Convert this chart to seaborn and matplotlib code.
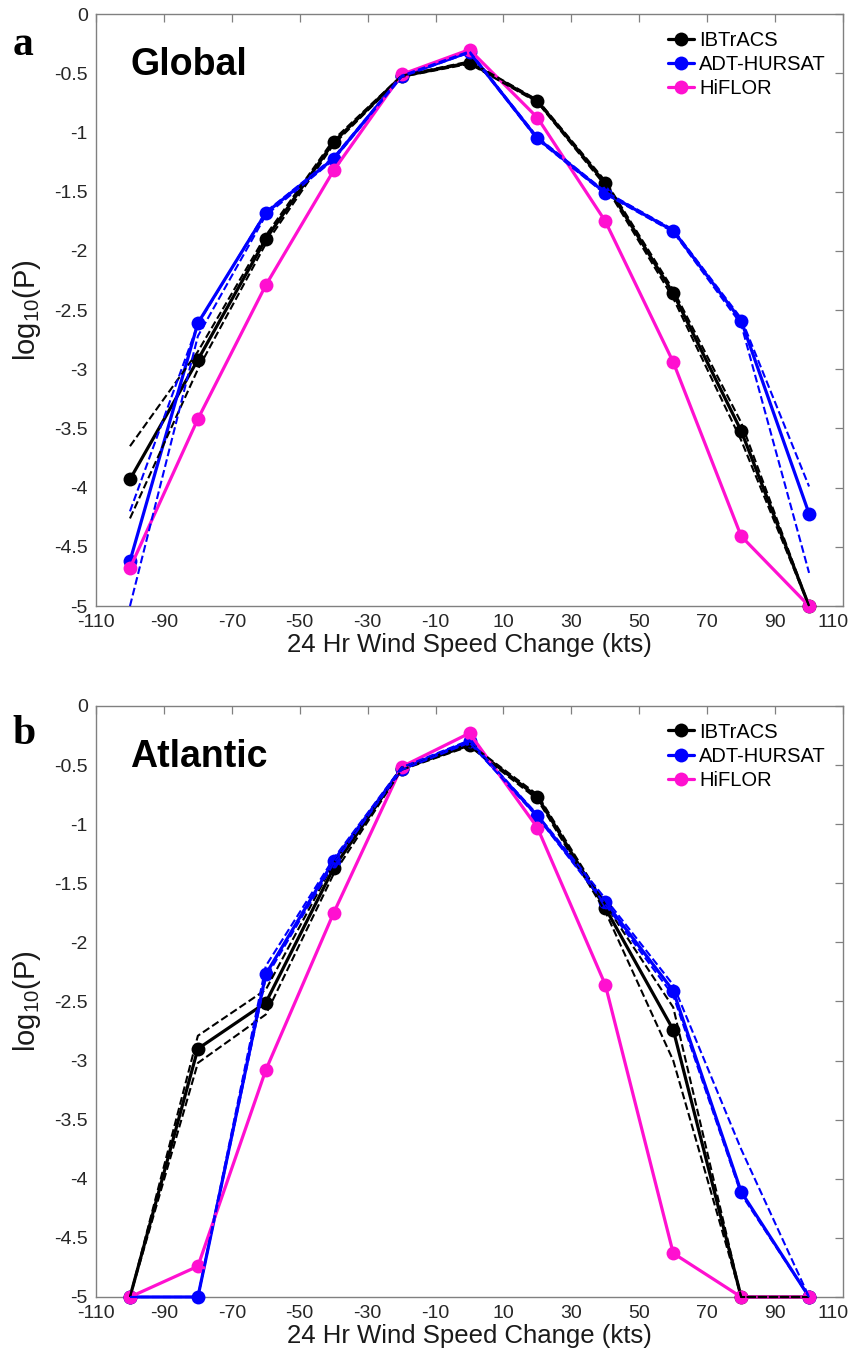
import numpy as np
import pandas as pd
import matplotlib
matplotlib.use('Agg')
import matplotlib.pyplot as plt
import matplotlib.transforms as mtransforms
import seaborn as sns

sns.set_style('white')
plt.rcParams['font.family'] = ['Liberation Sans', 'DejaVu Sans']
plt.rcParams['mathtext.default'] = 'regular'
plt.rcParams['axes.unicode_minus'] = False
plt.rcParams['text.color'] = 'black'

# 24 hr wind speed change bins (kts)
wind_change = [-100, -80, -60, -40, -20, 0, 20, 40, 60, 80, 100]

# panel a: Global, log10(P)
ibtracs_glob = [-3.93, -2.92, -1.90, -1.08, -0.525, -0.41, -0.735, -1.43, -2.36, -3.52, -5.0]
adt_glob = [-4.62, -2.61, -1.68, -1.22, -0.525, -0.32, -1.05, -1.51, -1.83, -2.59, -4.22]
hiflor_glob = [-4.68, -3.42, -2.29, -1.32, -0.51, -0.30, -0.875, -1.75, -2.94, -4.41, -5.0]
# dashed uncertainty bounds
ibtracs_glob_hi = [-3.65, -2.85, -1.87, -1.06, -0.52, -0.40, -0.725, -1.41, -2.33, -3.45, -5.0]
ibtracs_glob_lo = [-4.26, -3.00, -1.94, -1.10, -0.53, -0.42, -0.745, -1.45, -2.40, -3.60, -5.0]
adt_glob_hi = [-4.20, -2.62, -1.67, -1.21, -0.52, -0.315, -1.04, -1.50, -1.82, -2.57, -3.99]
adt_glob_lo = [-5.00, -2.72, -1.70, -1.23, -0.53, -0.325, -1.06, -1.52, -1.84, -2.62, -4.72]

# panel b: Atlantic
ibtracs_atl = [-5.0, -2.90, -2.51, -1.37, -0.53, -0.33, -0.77, -1.71, -2.74, -5.0, -5.0]
adt_atl = [-5.0, -5.0, -2.27, -1.31, -0.53, -0.30, -0.93, -1.66, -2.41, -4.11, -5.0]
hiflor_atl = [-5.0, -4.74, -3.08, -1.75, -0.515, -0.23, -1.03, -2.36, -4.63, -5.0, -5.0]
ibtracs_atl_hi = [-5.0, -2.79, -2.40, -1.33, -0.52, -0.32, -0.75, -1.68, -2.55, -5.0, -5.0]
ibtracs_atl_lo = [-5.0, -3.02, -2.61, -1.42, -0.54, -0.34, -0.79, -1.74, -3.00, -5.0, -5.0]
adt_atl_hi = [-5.0, -5.0, -2.20, -1.29, -0.52, -0.29, -0.92, -1.63, -2.36, -3.75, -5.0]
adt_atl_lo = [-5.0, -5.0, -2.30, -1.33, -0.54, -0.31, -0.94, -1.68, -2.45, -4.13, -5.0]

series_names = ['IBTrACS', 'ADT-HURSAT', 'HiFLOR']
colors = ['black', '#0000ff', '#ff10d0']
xticks = [-110, -90, -70, -50, -30, -10, 10, 30, 50, 70, 90, 110]
yticks = [0, -0.5, -1, -1.5, -2, -2.5, -3, -3.5, -4, -4.5, -5]
ytick_labels = ['0', '-0.5', '-1', '-1.5', '-2', '-2.5', '-3', '-3.5', '-4', '-4.5', '-5']

fig = plt.figure(figsize=(8.55, 13.54), dpi=100)
ax_a = fig.add_axes([0.1123, 0.5524, 0.8737, 0.4372])
ax_b = fig.add_axes([0.1123, 0.0421, 0.8737, 0.4365])


def draw_panel(ax, mains, bounds, region, letter, letter_y):
    for name, vals, col in zip(series_names, mains, colors):
        df = pd.DataFrame({'x': wind_change, 'y': vals})
        sns.lineplot(data=df, x='x', y='y', ax=ax, color=col, lw=2.3,
                     marker='o', markersize=10, markeredgewidth=0,
                     label=name, clip_on=False, zorder=3)
    for vals, col in bounds:
        df = pd.DataFrame({'x': wind_change, 'y': vals})
        sns.lineplot(data=df, x='x', y='y', ax=ax, color=col, lw=1.5,
                     linestyle='--', clip_on=False, zorder=4, legend=False)
    handles = ax.get_lines()[:3]
    ax.legend(handles, series_names, loc='upper right', frameon=False,
              bbox_to_anchor=(0.977, 0.972), borderpad=0, borderaxespad=0,
              fontsize=14.5, handlelength=1.3, handletextpad=0.25,
              labelspacing=0.25)
    ax.set_xlim(-110, 110)
    ax.set_ylim(-5, 0)
    ax.set_xticks(xticks)
    ax.set_xticklabels([str(t) for t in xticks])
    ax.set_yticks(yticks)
    ax.set_yticklabels(ytick_labels)
    ax.tick_params(direction='in', length=6, width=0.9, top=True, right=True,
                   labelsize=14, colors='#808080', labelcolor='#262626', pad=6)
    # keep the last x label inside the figure
    last = ax.get_xticklabels()[-1]
    last.set_transform(last.get_transform() +
                       mtransforms.ScaledTranslation(-10 / 100, 0, fig.dpi_scale_trans))
    for sp in ax.spines.values():
        sp.set_color('#808080')
        sp.set_linewidth(1.0)
    ax.set_xlabel('24 Hr Wind Speed Change (kts)', fontsize=18.5, color='#1a1a1a')
    ax.xaxis.set_label_coords(0.5, -0.046)
    ax.set_ylabel('log$_{10}$(P)', fontsize=21, color='#1a1a1a')
    ax.yaxis.set_label_coords(-0.071, 0.5)
    ax.text(0.0455, 0.897, region, transform=ax.transAxes, fontsize=27,
            fontweight='bold', va='baseline', ha='left', color='black')
    fig.text(0.015, letter_y, letter, fontsize=30, fontweight='bold',
             family='Liberation Serif', va='baseline', ha='left', color='black')


draw_panel(ax_a, [ibtracs_glob, adt_glob, hiflor_glob],
           [(ibtracs_glob_hi, 'black'), (ibtracs_glob_lo, 'black'),
            (adt_glob_hi, '#0000ff'), (adt_glob_lo, '#0000ff')],
           'Global', 'a', 0.9594)
draw_panel(ax_b, [ibtracs_atl, adt_atl, hiflor_atl],
           [(ibtracs_atl_hi, 'black'), (ibtracs_atl_lo, 'black'),
            (adt_atl_hi, '#0000ff'), (adt_atl_lo, '#0000ff')],
           'Atlantic', 'b', 0.4505)

fig.savefig('out.png', dpi=100)
